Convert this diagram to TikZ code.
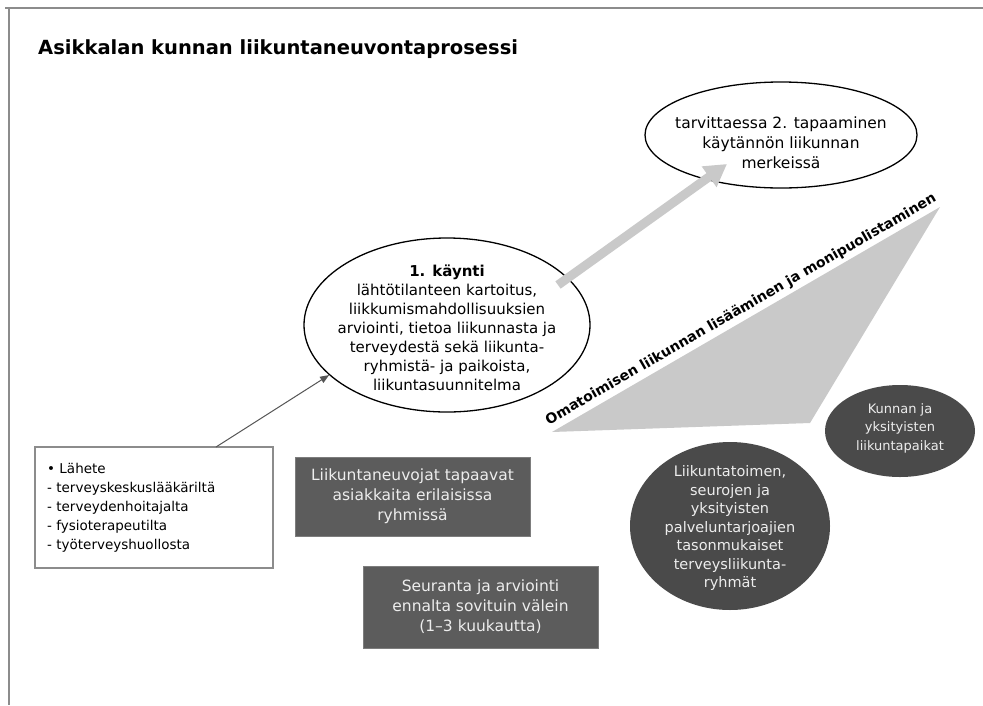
\documentclass[tikz,border=0pt]{standalone}
\usepackage{fontspec}
\setmainfont{DejaVu Sans}
\usetikzlibrary{shapes.geometric,arrows.meta}
\definecolor{frameline}{HTML}{8C8C8C}
\definecolor{wedge}{HTML}{C9C9C9}
\definecolor{darkbox}{HTML}{5C5C5C}
\definecolor{darkoval}{HTML}{4A4A4A}
\definecolor{paletext}{HTML}{EDEDED}
\definecolor{linkgray}{HTML}{555555}
\begin{document}
\begin{tikzpicture}[x=1pt,y=-1pt,
  oval/.style={ellipse, draw=black, line width=1.3pt, inner sep=0pt},
  bodytext/.style={font=\fontsize{15}{19}\selectfont, align=center, inner sep=0pt},
  darkrect/.style={rectangle, fill=darkbox, draw=darkbox!80!white, line width=0.8pt,
    text=paletext, font=\fontsize{15.5}{20}\selectfont, align=center, inner sep=0pt},
  darkellipse/.style={ellipse, fill=darkoval, inner sep=0pt},
  thinlink/.style={draw=linkgray, line width=1pt, -{Triangle[length=9pt,width=7pt]}},
  biglink/.style={draw=wedge, line width=9pt, -{Triangle[length=22pt,width=24pt]}}
]
\useasboundingbox (0,0) rectangle (983,705);
\fill[white] (0,0) rectangle (983,705);

% page frame
\draw[frameline, line width=1.5pt] (5,8) -- (983,8);
\draw[frameline, line width=1.5pt] (9,8) -- (9,705);

% title
\node[anchor=base west, inner sep=0pt, font=\fontsize{19.5}{22}\selectfont\bfseries]
  (title) at (38,54) {Asikkalan kunnan liikuntaneuvontaprosessi};

% grey wedge with its label
\fill[wedge] (552,432) -- (940,207) -- (810,423) -- cycle;
\node[anchor=base, inner sep=0pt, rotate=30, font=\fontsize{14}{16}\selectfont\bfseries]
  (wedgelabel) at (743,313) {Omatoimisen liikunnan lisääminen ja monipuolistaminen};

% first visit
\node[oval, minimum width=286pt, minimum height=174pt] (k1) at (447,325) {};
\node[bodytext] (k1txt) at (447,328) {\textbf{1. käynti}\\lähtötilanteen kartoitus,\\liikkumismahdollisuuksien\\arviointi, tietoa liikunnasta ja\\terveydestä sekä liikunta-\\ryhmistä- ja paikoista,\\liikuntasuunnitelma};

% second visit
\node[oval, minimum width=272pt, minimum height=106pt] (k2) at (781,135) {};
\node[bodytext, font=\fontsize{15.5}{20}\selectfont] (k2txt) at (781,143) {tarvittaessa 2. tapaaminen\\käytännön liikunnan\\merkeissä};

% referral box
\node[rectangle, draw=frameline, line width=1.2pt, minimum width=238pt, minimum height=121pt,
  text width=214pt, align=left, inner xsep=12pt, font=\fontsize{13.5}{19}\selectfont]
  (lahete) at (154,507.5) {• Lähete\\- terveyskeskuslääkäriltä\\- terveydenhoitajalta\\- fysioterapeutilta\\- työterveyshuollosta};

% dark boxes
\node[darkrect, minimum width=235pt, minimum height=79pt] (groups) at (412.5,496.5)
  {Liikuntaneuvojat tapaavat\\asiakkaita erilaisissa\\ryhmissä};
\node[darkrect, minimum width=235pt, minimum height=82pt] (followup) at (480.5,607)
  {Seuranta ja arviointi\\ennalta sovituin välein\\(1–3 kuukautta)};

% dark ovals
\node[darkellipse, minimum width=150pt, minimum height=92pt] (places) at (900,431) {};
\node[bodytext, text=paletext, font=\fontsize{13}{18.5}\selectfont] (placestxt) at (900,428)
  {Kunnan ja\\yksityisten\\liikuntapaikat};
\node[darkellipse, minimum width=200pt, minimum height=168pt] (clubs) at (730,526) {};
\node[bodytext, text=paletext, font=\fontsize{14.5}{18.5}\selectfont] (clubstxt) at (730,528)
  {Liikuntatoimen,\\seurojen ja\\yksityisten\\palveluntarjoajien\\tasonmukaiset\\terveysliikunta-\\ryhmät};

% connectors
\coordinate (refout) at (216,447);
\draw[thinlink] (refout) -- (k1.203);
\coordinate (upstart) at (558,285);
\coordinate (uptip) at (727,164);
\draw[biglink] (upstart) -- (uptip);
\end{tikzpicture}
\end{document}
